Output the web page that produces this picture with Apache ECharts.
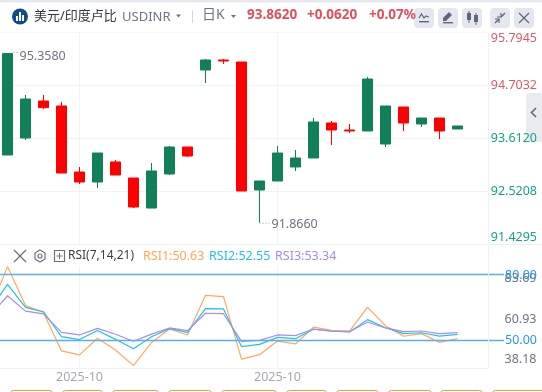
<!DOCTYPE html>
<html><head><meta charset="utf-8">
<style>html,body{margin:0;padding:0;background:#fff}#c{width:542px;height:392px}</style>
<script src="https://cdn.jsdelivr.net/npm/echarts@6/dist/echarts.min.js"></script>
</head><body><div id="c"></div>
<script>
const opens  = [93.263,93.614,94.378,94.275,92.912,92.705,93.119,92.788,92.168,92.871,93.428,95.018,95.225,95.183,92.540,92.726,93.015,93.201,93.924,93.779,93.759,93.490,94.254,93.903,94.027,93.800];
const closes = [95.358,94.419,94.240,92.891,92.705,93.304,92.850,92.189,92.933,93.428,93.242,95.225,95.204,92.520,92.726,93.304,93.201,93.945,93.779,93.759,94.832,94.275,93.924,94.027,93.759,93.862];
const lows   = [93.263,93.573,94.213,92.891,92.664,92.582,92.850,92.168,92.168,92.850,93.222,94.750,95.142,92.520,91.866,92.726,92.933,93.201,93.470,93.717,93.759,93.428,93.759,93.841,93.594,93.800];
const highs  = [95.358,94.502,94.502,94.357,93.015,93.304,93.160,92.788,93.098,93.449,93.428,95.245,95.245,95.183,92.726,93.449,93.366,94.027,93.965,93.903,94.874,94.275,94.254,94.027,94.027,93.862];
// RSI values: the first one is the off-screen bar that the lines run in from
const rsi1 = [63.1,83.5,65.7,62.6,45.0,43.2,50.8,45.4,38.3,48.9,55.0,52.3,70.4,69.8,41.3,43.3,49.5,48.2,55.9,54.4,54.1,64.9,56.5,51.7,52.9,48.9,50.63];
const rsi2 = [63.5,75.4,64.9,62.9,51.5,50.2,54.3,50.3,46.0,51.5,55.2,53.5,64.3,64.2,47.0,48.0,51.2,50.6,54.9,54.0,53.7,59.3,55.6,52.9,53.3,51.8,52.55];
const rsi3 = [60.7,70.2,63.2,61.9,53.5,52.3,55.3,52.6,49.4,52.7,55.5,54.3,62.2,62.0,49.4,49.8,52.3,52.0,55.0,54.1,53.8,58.2,55.5,53.8,54.1,52.9,53.34];
const priceTicks = [91.4295,92.5208,93.6120,94.7032,95.7945];
const rsiTicks = [38.18,60.93,83.69];
const rsiLevels = [80,50];
const dateLabels = ['','','','','','2025-10','','','','','','','','','','','2025-10','','','','','','','','','','',''];

const FONT = '"Noto Sans","Noto Sans CJK SC",sans-serif';
const UP='#118058', DOWN='#ff0000', GRID='#f1f2f6';
const candleData = [['-','-','-','-']].concat(opens.map((o,i)=>[o,closes[i],lows[i],highs[i]]));
const showDate = (i)=>dateLabels[i]!=='';
const priceMin=priceTicks[0], priceMax=priceTicks[4];
const rsiMin=37.08, rsiMax=83.69;

function txt(x,y,text,color,size,weight){return {type:'text',x,y,silent:true,z:50,style:{text,fill:color,font:(weight||'normal')+' '+size+'px '+FONT,textVerticalAlign:'middle',verticalAlign:'middle'}}}
function btn(x){return {type:'rect',shape:{x,y:8,width:20,height:20,r:4},style:{fill:'#e4e7ef'},silent:true,z:40}}
function poly(points,color,w,dash){return {type:'polyline',shape:{points},style:{stroke:color,fill:null,lineWidth:w||1.5,lineDash:dash||null},silent:true,z:51}}
function rect(x,y,width,height,fill,r){return {type:'rect',shape:{x,y,width,height,r:r||0},style:{fill},silent:true,z:45}}
const ic='#61677a';
const bottomBtns=[[10,52],[62,102],[112,158],[168,211],[221,276],[286,326],[336,378],[388,431],[440,482],[492,545]];

const graphics=[
  rect(0,0,542,2.5,'#e6e9ef'),
  rect(0,32,488,1,'#f6f7f9'),
  rect(0,244,542,1,'#eef0f4'),
  rect(488,33,1,335,'#f0f1f5'),
  rect(0,368,488,1,'#f0f1f5'),
  {type:'circle',shape:{cx:20,cy:16.5,r:8},style:{fill:'#0f4c8a'},silent:true,z:45},
  rect(16,16,2,5,'#fff'),rect(19,12,2,9,'#fff'),rect(22,15,2,6,'#fff'),
  txt(34,16,'美元/印度卢比','#33363f',13),
  txt(122,17,'USDINR','#6e7485',13),
  {type:'polygon',shape:{points:[[176,14.5],[181,14.5],[178.5,17.5]]},style:{fill:'#6e7485'},silent:true,z:45},
  rect(192,10,1,13,'#d5d8e0'),
  txt(202,15,'日K','#6e7485',14),
  {type:'polygon',shape:{points:[[231,15],[236,15],[233.5,18]]},style:{fill:'#6e7485'},silent:true,z:45},
  txt(247,15,'93.8620','#df4f5f',13.5,'bold'),
  txt(307,15,'+0.0620','#df4f5f',13.5,'bold'),
  txt(369,15,'+0.07%','#df4f5f',13.5,'bold'),
  btn(414),btn(438),btn(462),btn(490),btn(514),
  poly([[419,18],[421.5,14],[424,18],[426,16],[429,17]],ic,1.2), rect(419,21,10,1.4,ic),
  {type:'polygon',shape:{points:[[443,21],[443,18],[449,12],[452,15],[446,21]]},style:{fill:ic},silent:true,z:51}, rect(443,22,10,1.4,ic),
  rect(467,13,4,7,ic),rect(474,15,4,7,ic),rect(468.5,11,1,12,ic),rect(475.5,13,1,12,ic),
  poly([[495,23],[499,19]],ic),poly([[505,13],[501,17]],ic),poly([[497,17],[501,17],[501,13]],ic,1.2),poly([[499,23],[499,19],[495,19]],ic,1.2),
  poly([[519,13],[529,23]],ic,1.3),poly([[529,13],[519,23]],ic,1.3),
  {type:'rect',shape:{x:526,y:93,width:20,height:49,r:4},style:{fill:'#eaebf0'},silent:true,z:-1},
  poly([[536,108],[531.5,112.5],[536,117]],'#61677a',1.6),
  poly([[14,250],[26,262]],'#6b7080',1.2),poly([[26,250],[14,262]],'#6b7080',1.2),
  {type:'polygon',shape:{points:[[40,250],[45,253],[45,259],[40,262],[35,259],[35,253]]},style:{fill:null,stroke:'#6b7080',lineWidth:1.2},silent:true,z:51},
  {type:'circle',shape:{cx:40,cy:256,r:2},style:{fill:null,stroke:'#6b7080',lineWidth:1.2},silent:true,z:51},
  {type:'rect',shape:{x:54.5,y:250.5,width:10,height:11},style:{fill:null,stroke:'#6b7080',lineWidth:1.2},silent:true,z:51},
  poly([[56.5,256],[62.5,256]],'#6b7080',1),poly([[59.5,253],[59.5,259]],'#6b7080',1),
  txt(68,256,'RSI(7,14,21)','#3a3d46',12),
  txt(143,256,'RSI1:50.63','#ffa756',12.5),
  txt(209,256,'RSI2:52.55','#27bfdc',12.5),
  txt(275,256,'RSI3:53.34','#a78be8',12.5),
].concat(bottomBtns.map(b=>({type:'rect',shape:{x:b[0]+.5,y:390.5,width:b[1]-b[0],height:12,r:3},style:{fill:'#fff',stroke:'#d6a04e',lineWidth:1},silent:true,z:45})));

const BAND_LEFT=-19.5, BAND_W=504, OB={outerBoundsMode:'none',containLabel:false};
const option={
  animation:false,
  textStyle:{fontFamily:FONT},
  graphic:graphics,
  grid:[
    {...OB,left:0,width:488,top:32.4,height:211.4},              // price axis + horizontal lines
    {...OB,left:BAND_LEFT,width:BAND_W,top:32.4,height:211.4},   // candles
    {...OB,left:BAND_LEFT,width:BAND_W,top:266.2,height:102.1},  // RSI lines + date axis
    {...OB,left:0,width:504,top:266.2,height:102.1},             // RSI level lines
    {...OB,left:0,width:488,top:272,height:94}                   // RSI tick labels
  ],
  xAxis:[
    {gridIndex:0,type:'value',min:0,max:1,show:false},
    {gridIndex:1,type:'category',data:dateLabels,axisLine:{show:false},axisTick:{show:false},axisLabel:{show:false},
      splitLine:{show:true,alignWithLabel:true,interval:showDate,lineStyle:{color:GRID,width:1}}},
    {gridIndex:2,type:'category',data:dateLabels,axisLine:{show:false},axisTick:{show:false},
      axisLabel:{show:true,interval:0,color:'#a4a7b3',fontSize:12.5,margin:1.5,lineHeight:16},
      splitLine:{show:true,alignWithLabel:true,interval:showDate,lineStyle:{color:GRID,width:1}}},
    {gridIndex:3,type:'value',min:0,max:1,show:false},
    {gridIndex:4,type:'value',min:0,max:1,show:false}
  ],
  yAxis:[
    {gridIndex:0,type:'value',position:'right',min:priceMin,max:priceMax,
      axisLine:{show:false},axisTick:{show:false,customValues:priceTicks},
      splitLine:{show:true,lineStyle:{color:GRID,width:1}},
      axisLabel:{customValues:priceTicks,align:'right',margin:49,fontSize:12.5,
        verticalAlignMaxLabel:'top',verticalAlignMinLabel:'bottom',
        formatter:v=>v.toFixed(4),
        color:v=>v>priceTicks[2]+0.5?'#df5a67':'#17a288'}},
    {gridIndex:1,type:'value',min:priceMin,max:priceMax,show:false},
    {gridIndex:2,type:'value',min:rsiMin,max:rsiMax,show:false},
    {gridIndex:3,type:'value',min:rsiMin,max:rsiMax,show:false},
    {gridIndex:4,type:'value',position:'right',min:rsiTicks[0],max:rsiTicks[2],
      axisLine:{show:false},axisTick:{show:false,customValues:rsiTicks},splitLine:{show:false},
      axisLabel:{customValues:rsiTicks,align:'right',margin:48.5,fontSize:12.5,color:'#6f7382',
        verticalAlignMaxLabel:'top',verticalAlignMinLabel:'bottom',formatter:v=>v.toFixed(2)}}
  ],
  series:[
    {type:'candlestick',xAxisIndex:1,yAxisIndex:1,data:candleData,barWidth:10,z:3,
      itemStyle:{color:UP,color0:DOWN,borderColor:UP,borderColor0:DOWN,borderWidth:1}},
    {type:'line',name:'RSI1',xAxisIndex:2,yAxisIndex:2,data:rsi1,showSymbol:false,lineStyle:{color:'#ffa95f',width:1.2}},
    {type:'line',name:'RSI2',xAxisIndex:2,yAxisIndex:2,data:rsi2,showSymbol:false,lineStyle:{color:'#22c3de',width:1.2}},
    {type:'line',name:'RSI3',xAxisIndex:2,yAxisIndex:2,data:rsi3,showSymbol:false,lineStyle:{color:'#a98cea',width:1.2}},
    {type:'line',xAxisIndex:3,yAxisIndex:3,data:[],
      markLine:{silent:true,symbol:'none',animation:false,
        lineStyle:{color:'#5aaef0',width:1.4,type:'solid'},
        label:{position:'end',distance:1,color:'#2b95ee',fontSize:12.5,formatter:p=>p.value.toFixed(2)},
        data:rsiLevels.map(v=>({yAxis:v,label:{offset:[0,v===80?1.5:0]}}))}}
  ]
};
const chart=echarts.init(document.getElementById('c'),null,{renderer:'canvas'});
chart.setOption(option);
// price extrema notes are real text positioned through the axes
const p1=chart.convertToPixel({xAxisIndex:1,yAxisIndex:1},[1,highs[0]]);
const p2=chart.convertToPixel({xAxisIndex:1,yAxisIndex:1},[15,lows[14]]);
chart.setOption({graphic:graphics.concat([
  poly([[p1[0]+6,p1[1]-1],[p1[0]+11,p1[1]-1]],'#9a9da8',1,[1,2]),
  txt(p1[0]+12,p1[1]+2.5,'95.3580','#6f7382',12.5),
  poly([[p2[0],p2[1]+.5],[p2[0]+11,p2[1]+.5]],'#9a9da8',1,[1,2]),
  txt(p2[0]+12,p2[1]+2,'91.8660','#6f7382',12.5)
])});
</script></body></html>
